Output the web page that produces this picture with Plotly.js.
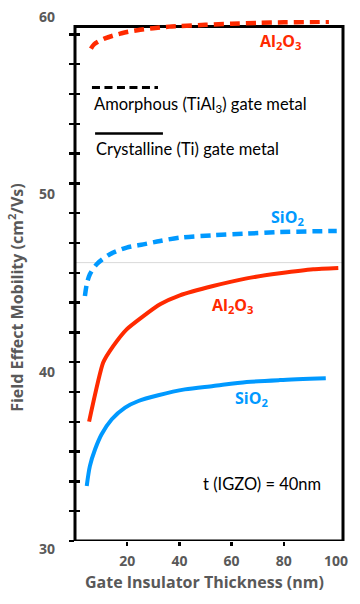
<!DOCTYPE html>
<html><head><meta charset="utf-8">
<script src="https://cdn.plot.ly/plotly-3.0.1.min.js"></script>
<style>html,body{margin:0;padding:0;background:#fff;}#chart{width:360px;height:604px;}</style>
</head><body><div id="chart"></div>
<script>
// Amorphous (TiAl3) gate metal — dashed
const al2o3AmorphX = [6.1, 7.3, 11.5, 17.9, 23.9, 30.0, 36.1, 40.2, 50, 60, 70, 80, 90, 97.3];
const al2o3AmorphY = [57.54, 57.78, 58.11, 58.40, 58.57, 58.68, 58.77, 58.80, 58.87, 58.93, 58.98, 59.01, 59.03, 59.04];
const sio2AmorphX = [3.8, 4.5, 5.7, 8.3, 13.4, 19.8, 26.2, 32.6, 40.2, 52.9, 65.8, 78.5, 91.2, 100.3];
const sio2AmorphY = [43.70, 44.36, 44.92, 45.48, 46.04, 46.41, 46.59, 46.78, 46.97, 47.10, 47.19, 47.28, 47.32, 47.34];
// Crystalline (Ti) gate metal — solid
const al2o3CrystX = [5.4, 10.8, 14.7, 19.8, 26.2, 32.6, 40.2, 52.9, 65.8, 78.5, 91.3, 100.9];
const al2o3CrystY = [36.68, 39.98, 40.91, 41.84, 42.58, 43.24, 43.74, 44.26, 44.69, 44.97, 45.20, 45.27];
const sio2CrystX = [4.5, 5.7, 7.7, 10.2, 14.1, 19.2, 24.3, 31.9, 42.1, 53.0, 65.8, 78.5, 96.1];
const sio2CrystY = [33.08, 34.19, 35.13, 35.97, 36.81, 37.46, 37.83, 38.15, 38.48, 38.67, 38.89, 39.00, 39.10];

const xTickVals = [20, 40, 60, 80, 100];
const xTickMarks = [20, 40, 60, 80];
const yTickLabels = [30, 40, 50, 60];
const yLabelShift = [-7, -9, -10, -12];
const greyLineY = 45.57;

const RED = '#ff2a00', BLUE = '#0099ff', GREY = '#595959';
const FONT = 'Lato, "Open Sans", sans-serif';
const BFONT = '"Open Sans", Lato, sans-serif';
const yRange = [30, 59.14], xRange = [0, 102.7];
const frameTop = 58.78;
const toPaperY = v => (v - yRange[0]) / (yRange[1] - yRange[0]);

const traces = [
  {x: al2o3AmorphX, y: al2o3AmorphY, mode: 'lines', line: {color: RED, width: 4.5, dash: '10px,6px', shape: 'spline', smoothing: 0.8}},
  {x: sio2AmorphX, y: sio2AmorphY, mode: 'lines', line: {color: BLUE, width: 4.5, dash: '10px,6px', shape: 'spline', smoothing: 0.8}},
  {x: al2o3CrystX, y: al2o3CrystY, mode: 'lines', line: {color: RED, width: 4, shape: 'spline', smoothing: 0.5}},
  {x: sio2CrystX, y: sio2CrystY, mode: 'lines', line: {color: BLUE, width: 4, shape: 'spline', smoothing: 0.8}},
  {x: [null], y: [null], xaxis: 'x2', yaxis: 'y2', mode: 'lines', hoverinfo: 'skip'}
];

const ann = [];
yTickLabels.forEach((v, i) => ann.push({xref: 'paper', x: 0, xanchor: 'right', xshift: -18, yref: 'paper', y: toPaperY(v), yanchor: 'middle', yshift: yLabelShift[i],
  text: String(v), showarrow: false, font: {family: BFONT, size: 14, color: GREY, weight: 'bold'}}));
const lbl = (text, x, y, color, family, size, bold, anchor) => ann.push({x: x, y: y, xref: 'x', yref: 'y', text: text, showarrow: false,
  xanchor: anchor || 'center', yanchor: 'middle', font: {family: family, size: size, color: color, weight: bold ? 'bold' : 'normal'}});
lbl('Al<sub>2</sub>O<sub>3</sub>', 78.9, 57.95, RED, BFONT, 16, true);
lbl('SiO<sub>2</sub>', 81.6, 48.08, BLUE, BFONT, 16, true);
lbl('Al<sub>2</sub>O<sub>3</sub>', 60.5, 43.18, RED, BFONT, 16, true);
lbl('SiO<sub>2</sub>', 67.8, 37.98, BLUE, BFONT, 16, true);
lbl('t (IGZO) = 40nm', 71.5, 33.21, '#000', FONT, 16.5, false);
lbl('Amorphous (TiAl<sub>3</sub>) gate metal', 6.4, 54.42, '#000', FONT, 16.5, false, 'left');
lbl('Crystalline (Ti) gate metal', 7.4, 51.91, '#000', FONT, 16.5, false, 'left');
ann.push({xref: 'paper', x: 0, xshift: -59, xanchor: 'center', yref: 'y', y: 43.6, yanchor: 'middle', textangle: -90, showarrow: false,
  text: 'Field Effect Mobility (cm<sup>2</sup>/Vs)', font: {family: BFONT, size: 16, color: GREY, weight: 'bold'}});
ann.push({xref: 'x', x: 49.6, xanchor: 'center', yref: 'paper', y: 0, yanchor: 'middle', yshift: -40.7, showarrow: false,
  text: 'Gate Insulator Thickness (nm)', font: {family: BFONT, size: 16, color: GREY, weight: 'bold'}});

const shapes = [
  {type: 'line', layer: 'below', xref: 'paper', x0: 0, x1: 1, yref: 'y', y0: greyLineY, y1: greyLineY, line: {color: '#d9d9d9', width: 1}},
  {type: 'rect', layer: 'below', xref: 'paper', x0: 0, x1: 1, yref: 'y', y0: 30, y1: frameTop, line: {color: '#000', width: 3}},
  {type: 'line', xref: 'x', yref: 'y', x0: 6.5, x1: 31.8, y0: 55.36, y1: 55.36, line: {color: '#000', width: 3, dash: '8px,4.5px'}},
  {type: 'line', xref: 'x', yref: 'y', x0: 7.7, x1: 33.7, y0: 52.79, y1: 52.79, line: {color: '#000', width: 2.5}}
];

const layout = {
  width: 360, height: 604,
  margin: {l: 75, r: 17, t: 20, b: 63},
  paper_bgcolor: '#fff', plot_bgcolor: 'rgba(0,0,0,0)',
  showlegend: false,
  font: {family: FONT},
  xaxis: {range: xRange, tickvals: xTickVals, ticktext: xTickVals.map(String), ticks: '', showgrid: false, zeroline: false, showline: false,
    tickfont: {family: BFONT, size: 14, color: GREY, weight: 'bold'}, ticklabelstandoff: 10},
  xaxis2: {range: xRange, overlaying: 'x', anchor: 'y2', tickvals: xTickMarks, ticks: 'outside', ticklen: 4, tickwidth: 2.5, tickcolor: '#000',
    showticklabels: false, showgrid: false, zeroline: false, showline: false},
  yaxis: {range: yRange, tick0: 30, dtick: 10/6, ticks: 'outside', ticklen: 5, tickwidth: 2.5, tickcolor: '#000',
    showticklabels: false, showgrid: false, zeroline: false, showline: false},
  yaxis2: {range: yRange, overlaying: 'y', side: 'left', anchor: 'x2', tick0: 30, dtick: 10/6, ticks: 'inside', ticklen: 5, tickwidth: 2.5, tickcolor: '#000',
    showticklabels: false, showgrid: false, zeroline: false, showline: false},
  annotations: ann,
  shapes: shapes
};

Plotly.newPlot('chart', traces, layout, {displayModeBar: false, staticPlot: true});
</script></body></html>
